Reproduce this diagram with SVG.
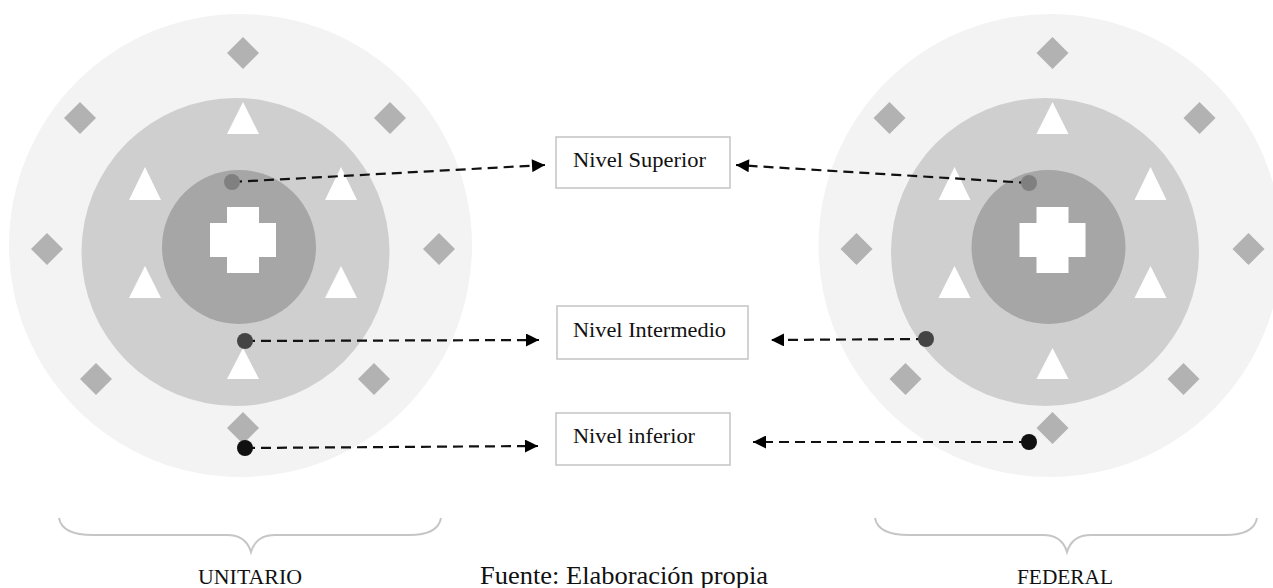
<svg xmlns="http://www.w3.org/2000/svg" width="1273" height="588" viewBox="0 0 1273 588">
  <style>
    .ring-outer { fill: #f3f3f3; }
    .ring-mid { fill: #cfcfcf; }
    .ring-inner { fill: #a6a6a6; }
    .diamond { fill: #b2b2b2; }
    .tri, .cross { fill: #ffffff; }
    .box { fill: #ffffff; stroke: #c4c4c4; stroke-width: 1.5; }
    .label { font-family: "Liberation Serif", "Times New Roman", serif; fill: #111111; }
    .conn { fill: none; stroke: #111111; stroke-width: 2.2; stroke-dasharray: 10 6; }
    .brace { fill: none; stroke: #c6c6c6; stroke-width: 2; }
  </style>
  <defs>
    <marker id="arrow" viewBox="0 0 10 10" refX="10" refY="5" markerWidth="16" markerHeight="13" markerUnits="userSpaceOnUse" orient="auto">
      <path d="M0,0 L10,5 L0,10 Z" fill="#000000"/>
    </marker>
    <!-- concentric emblem: outer ring of diamonds, middle ring of triangles, central cross -->
    <g id="emblem">
      <circle class="ring-outer" cx="240.5" cy="245.5" r="231.5"/>
      <circle class="ring-mid" cx="235.5" cy="252" r="154"/>
      <circle class="ring-inner" cx="239" cy="247" r="77"/>
      <path class="cross" d="M227,207 H259 V223 H276 V257 H259 V273 H227 V257 H210 V223 H227 Z"/>
      <g class="diamond">
        <path d="M243,37 l16,16 l-16,16 l-16,-16 Z"/>
        <path d="M80,102 l16,16 l-16,16 l-16,-16 Z"/>
        <path d="M390,102 l16,16 l-16,16 l-16,-16 Z"/>
        <path d="M47,233 l16,16 l-16,16 l-16,-16 Z"/>
        <path d="M439,233 l16,16 l-16,16 l-16,-16 Z"/>
        <path d="M96,363 l16,16 l-16,16 l-16,-16 Z"/>
        <path d="M374,363 l16,16 l-16,16 l-16,-16 Z"/>
        <path d="M243,412 l16,16 l-16,16 l-16,-16 Z"/>
      </g>
      <g class="tri">
        <path d="M243,102 L259,134 L227,134 Z"/>
        <path d="M145,167 L161,200 L129,200 Z"/>
        <path d="M341,167 L357,200 L325,200 Z"/>
        <path d="M145,266 L161,298 L129,298 Z"/>
        <path d="M341,266 L357,298 L325,298 Z"/>
        <path d="M243,348 L259,379 L227,379 Z"/>
      </g>
    </g>
  </defs>

  <g id="unitario">
    <use href="#emblem"/>
  </g>
  <g id="federal">
    <use href="#emblem" transform="translate(809.5,0)"/>
  </g>

  <g id="nivel-superior">
    <rect class="box" x="556" y="137" width="174" height="51"/>
    <text class="label" x="573" y="167" font-size="21" textLength="133" lengthAdjust="spacingAndGlyphs">Nivel Superior</text>
  </g>
  <g id="nivel-intermedio">
    <rect class="box" x="557" y="306" width="191" height="53"/>
    <text class="label" x="573" y="337" font-size="21" textLength="153" lengthAdjust="spacingAndGlyphs">Nivel Intermedio</text>
  </g>
  <g id="nivel-inferior">
    <rect class="box" x="556" y="413" width="174" height="52"/>
    <text class="label" x="573" y="443" font-size="21" textLength="122" lengthAdjust="spacingAndGlyphs">Nivel inferior</text>
  </g>

  <g id="connectors">
    <path class="conn" d="M232,182 L545,165" marker-end="url(#arrow)"/>
    <path class="conn" d="M245,341 L539,340" marker-end="url(#arrow)"/>
    <path class="conn" d="M245,448 L538,446" marker-end="url(#arrow)"/>
    <path class="conn" d="M1029,183 L736,165" marker-end="url(#arrow)"/>
    <path class="conn" d="M926,339 L771,340" marker-end="url(#arrow)"/>
    <path class="conn" d="M1029,442 L753,442" marker-end="url(#arrow)"/>
  </g>

  <g id="level-dots">
    <circle cx="232" cy="182" r="8" fill="#808080"/>
    <circle cx="245" cy="341" r="8" fill="#444444"/>
    <circle cx="245" cy="448" r="8" fill="#111111"/>
    <circle cx="1029" cy="183" r="8" fill="#808080"/>
    <circle cx="926" cy="339" r="8" fill="#444444"/>
    <circle cx="1029" cy="442" r="8" fill="#111111"/>
  </g>

  <g id="brace-unitario">
    <path class="brace" d="M59,518 Q62,535 93,535 H227 Q246,535 251,552 Q256,535 275,535 H409 Q438,535 441,518"/>
    <text class="label" x="250" y="584" font-size="21" text-anchor="middle" textLength="104" lengthAdjust="spacingAndGlyphs">UNITARIO</text>
  </g>
  <g id="brace-federal">
    <path class="brace" d="M875,518 Q878,535 909,535 H1043 Q1062,535 1067,552 Q1072,535 1091,535 H1225 Q1254,535 1257,518"/>
    <text class="label" x="1065" y="584" font-size="21" text-anchor="middle" textLength="96" lengthAdjust="spacingAndGlyphs">FEDERAL</text>
  </g>

  <text class="label" x="480" y="584" font-size="25" textLength="288" lengthAdjust="spacingAndGlyphs">Fuente: Elaboración propia</text>
</svg>
